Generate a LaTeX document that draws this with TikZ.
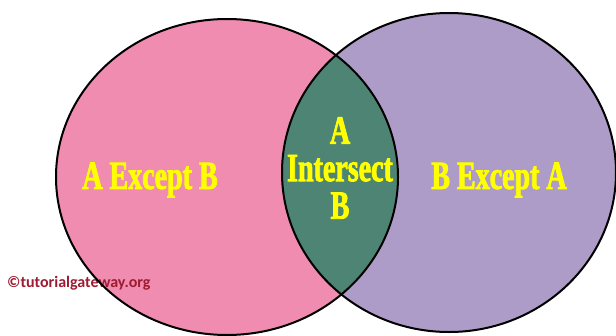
\documentclass[tikz,border=0pt]{standalone}
\usepackage{fontspec}
\usepackage{xcolor}
\usepackage{tikz}
\newfontfamily\vennfont{Liberation Serif}[UprightFont=* Bold, FakeStretch=0.7, FakeBold=2]
\newfontfamily\markfont{Carlito}[UprightFont=* Bold]
\definecolor{vpink}{HTML}{F08CB0}
\definecolor{vpurple}{HTML}{AE9CC8}
\definecolor{vgreen}{HTML}{4E8474}
\definecolor{vyellow}{HTML}{FFFF00}
\definecolor{vmark}{HTML}{9E1B32}

\begin{document}
\begin{tikzpicture}[x=1pt, y=-1pt,
  setline/.style={draw=black, line width=2pt},
  setlabel/.style={text=vyellow, font=\vennfont\fontsize{40}{37.5}\selectfont, align=center, inner sep=0pt},
  marklabel/.style={text=vmark, font=\markfont\fontsize{16}{18}\selectfont, anchor=west, inner sep=0pt}]
\useasboundingbox[fill=white] (0,0) rectangle (616,335);
\coordinate (ca) at (227,177);
\coordinate (cb) at (449,172.5);
% the two sets
\fill[vpink] (ca) ellipse [x radius=171pt, y radius=158pt];
\fill[vpurple] (cb) ellipse [x radius=167pt, y radius=159.5pt];
\begin{scope}
  \clip (ca) ellipse [x radius=171pt, y radius=158pt];
  \fill[vgreen] (cb) ellipse [x radius=167pt, y radius=159.5pt];
\end{scope}
\node[marklabel] (mark) at (7,283) {©tutorialgateway.org};
\draw[setline] (ca) ellipse [x radius=171pt, y radius=158pt];
\draw[setline] (cb) ellipse [x radius=167pt, y radius=159.5pt];
% labels
\node[setlabel] (aonly) at (150,180) {A Except B};
\node[setlabel] (both) at (340,168) {A\\Intersect\\B};
\node[setlabel] (bonly) at (499,180) {B Except A};
\end{tikzpicture}
\end{document}
